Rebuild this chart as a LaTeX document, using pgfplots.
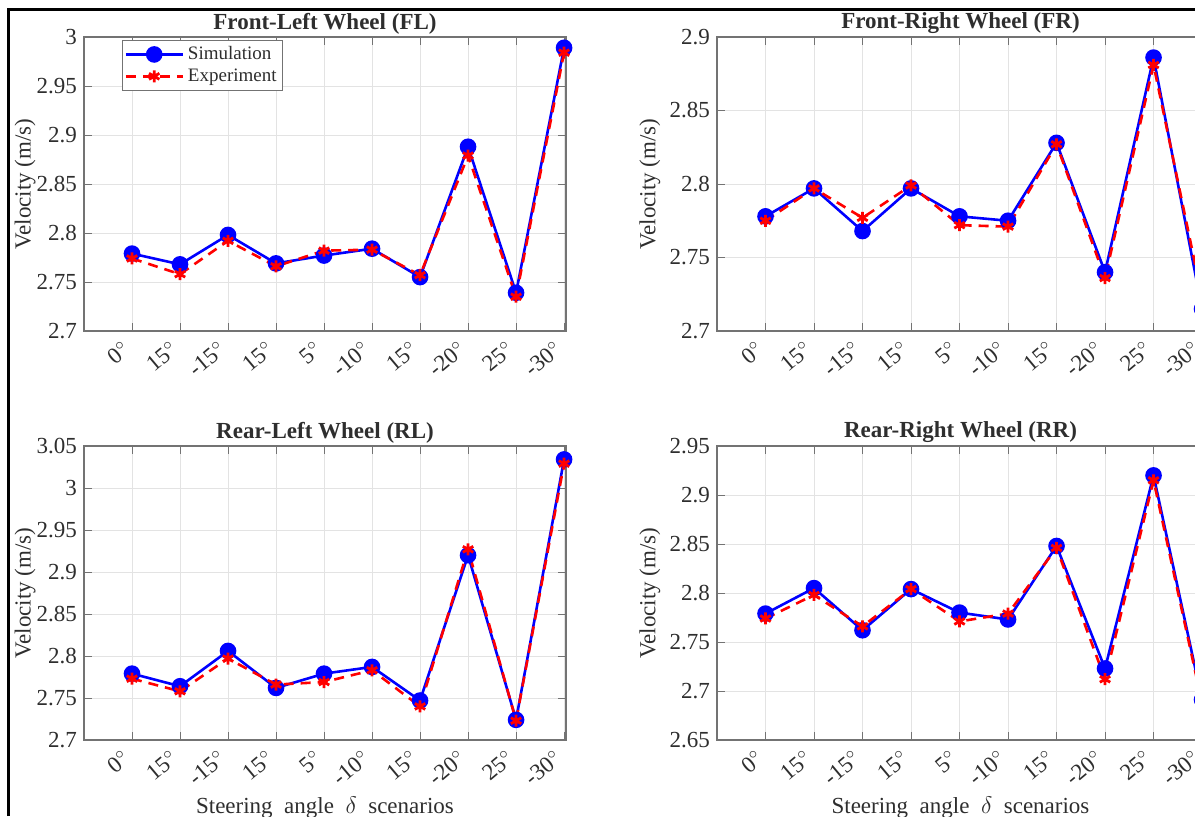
\documentclass[border=0pt]{standalone}
\usepackage{fontspec}
\setmainfont{Liberation Serif}
\usepackage{pgfplots}
\usepackage{pgfplotstable}
\pgfplotsset{compat=1.18}

\definecolor{axgray}{gray}{0.45}
\definecolor{txtgray}{gray}{0.18}
\definecolor{simblue}{rgb}{0,0,1}
\definecolor{expred}{rgb}{1,0,0}

% steering scenarios 0..9, velocities in m/s
\pgfplotstableread{
x simFL expFL simFR expFR simRL expRL simRR expRR
0 2.779 2.774 2.778 2.775 2.779 2.773 2.779 2.774
1 2.768 2.758 2.797 2.797 2.764 2.758 2.805 2.798
2 2.798 2.792 2.768 2.777 2.806 2.797 2.762 2.766
3 2.769 2.766 2.797 2.799 2.762 2.766 2.804 2.804
4 2.777 2.782 2.778 2.772 2.779 2.769 2.780 2.771
5 2.784 2.783 2.775 2.771 2.787 2.783 2.773 2.779
6 2.755 2.757 2.828 2.827 2.747 2.740 2.848 2.846
7 2.888 2.879 2.740 2.736 2.920 2.927 2.723 2.712
8 2.739 2.735 2.886 2.881 2.724 2.723 2.920 2.915
9 2.989 2.984 2.715 2.723 3.034 3.029 2.691 2.688
}\vel

\newcommand{\lblfont}{\fontsize{11.5}{13}\selectfont}

\pgfplotsset{
  wheel/.style={
    scale only axis, width=241pt, height=147pt,
    xmin=-1, xmax=9.04, clip=false,
    xtick={0,...,9},
    xticklabels={0$^\circ$,15$^\circ$,-15$^\circ$,15$^\circ$,5$^\circ$,-10$^\circ$,15$^\circ$,-20$^\circ$,25$^\circ$,-30$^\circ$},
    xticklabel style={rotate=40, anchor=east, font=\lblfont, text=txtgray},
    xticklabel shift=5pt,
    yticklabel style={font=\lblfont, text=txtgray, /pgf/number format/fixed, /pgf/number format/precision=2},
    /pgf/number format/assume math mode=true,
    ytick distance=0.05,
    grid=major, major grid style={gray!22, line width=0.5pt},
    axis line style={axgray, line width=0.6pt},
    major tick length=4pt, tick style={axgray, line width=0.5pt},
    title style={font=\bfseries\lblfont, text=txtgray, yshift=-8pt},
    ylabel={Velocity (m/s)},
    ylabel style={font=\lblfont, text=txtgray, anchor=center, at={(axis description cs:-0.122,0.5)}},
    xlabel style={font=\lblfont, text=txtgray, anchor=north, at={(axis description cs:0.5,0)}, yshift=-25pt},
    legend cell align=left,
    legend image code/.code={\draw[mark repeat=2,mark phase=2,##1] plot coordinates {(0cm,0cm)(0.5cm,0cm)(1cm,0cm)};},
  },
  rightcol/.style={width=243.5pt, ylabel style={at={(axis description cs:-0.138,0.5)}}},
  sim/.style={simblue, line width=1.3pt, mark=*, mark size=3.5pt, mark options={solid, fill=simblue}},
  exp/.style={expred, line width=1.3pt, dash pattern=on 5pt off 3.5pt, mark=asterisk, mark size=3pt, mark options={solid, line width=1.4pt}},
}

\begin{document}
\begin{tikzpicture}
% outer frame (partly cropped in the reference)
\draw[line width=1.5pt] (4pt,0pt) -- (4pt,403pt) -- (600pt,403pt);

\begin{axis}[wheel, at={(42pt,242.5pt)}, anchor=south west,
    ymin=2.7, ymax=3.0, title={Front-Left Wheel (FL)},
    legend style={at={(0.079,0.99)}, anchor=north west, draw=axgray,
      font=\fontsize{9.5}{11}\selectfont, text=txtgray, inner sep=1pt, row sep=-1pt}]
\addplot[sim] table[x=x, y=simFL] {\vel};
\addplot[exp] table[x=x, y=expFL] {\vel};
\legend{Simulation, Experiment}
\end{axis}

\begin{axis}[wheel, rightcol, at={(358.5pt,242.5pt)}, anchor=south west,
    ymin=2.7, ymax=2.9, title={Front-Right Wheel (FR)}]
\addplot[sim] table[x=x, y=simFR] {\vel};
\addplot[exp] table[x=x, y=expFR] {\vel};
\end{axis}

\begin{axis}[wheel, at={(42pt,38pt)}, anchor=south west,
    ymin=2.7, ymax=3.05, title={Rear-Left Wheel (RL)},
    xlabel={Steering\ \ angle\ \ $\delta$\ \ scenarios}]
\addplot[sim] table[x=x, y=simRL] {\vel};
\addplot[exp] table[x=x, y=expRL] {\vel};
\end{axis}

\begin{axis}[wheel, rightcol, at={(358.5pt,38pt)}, anchor=south west,
    ymin=2.65, ymax=2.95, title={Rear-Right Wheel (RR)},
    xlabel={Steering\ \ angle\ \ $\delta$\ \ scenarios}]
\addplot[sim] table[x=x, y=simRR] {\vel};
\addplot[exp] table[x=x, y=expRR] {\vel};
\end{axis}

\pgfresetboundingbox
\useasboundingbox (0pt,0pt) rectangle (597.5pt,408pt);
\end{tikzpicture}
\end{document}
